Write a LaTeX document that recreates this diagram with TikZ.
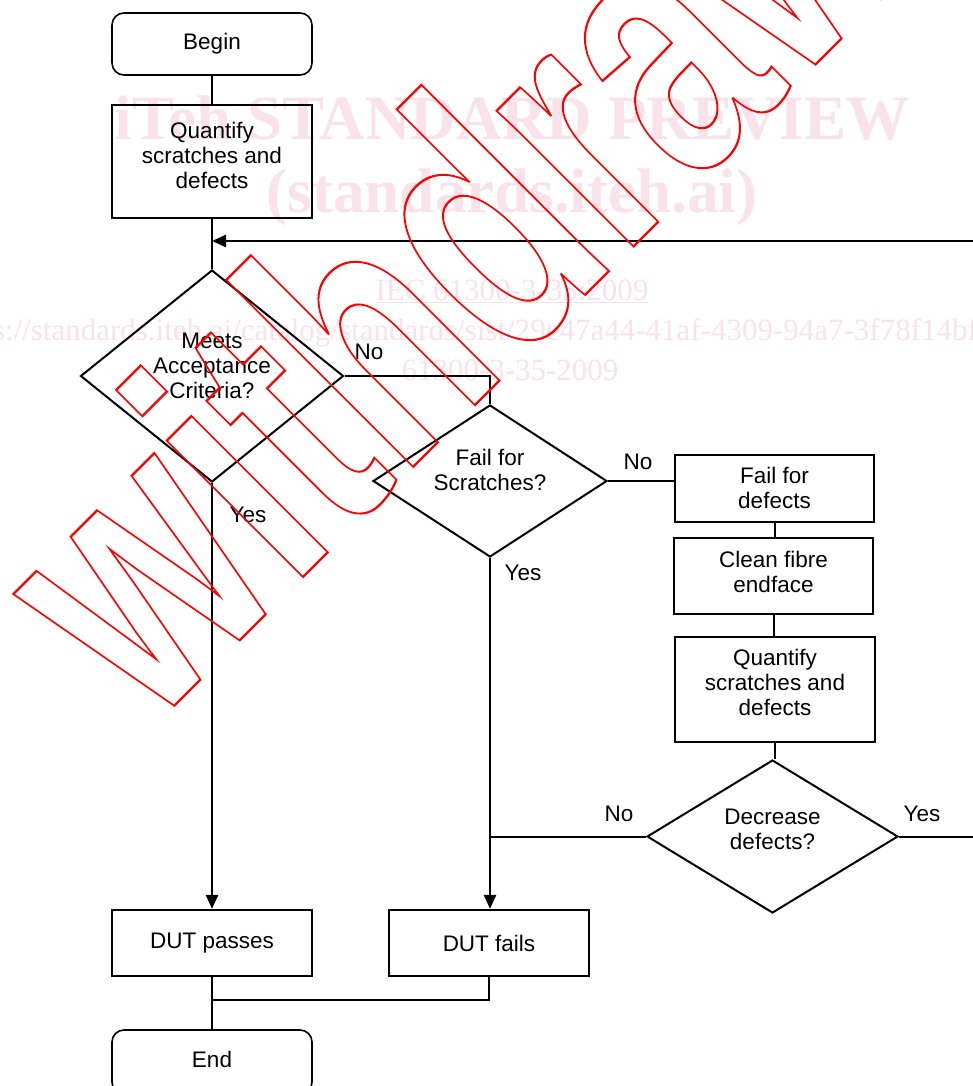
\documentclass[tikz,border=0pt]{standalone}
\usepackage{fontspec}
\setmainfont{Liberation Sans}
\newfontfamily\wmserif{Liberation Serif}
\newfontfamily\wdfont{Liberation Sans}
\usetikzlibrary{shapes.geometric,arrows.meta}
\definecolor{wmpink}{RGB}{250,226,234}
\definecolor{wmred}{RGB}{255,0,0}
\newcommand\ml[2]{\raisebox{#1}[\height][\depth]{\begin{tabular}{@{}c@{}}#2\end{tabular}}}
\begin{document}
\begin{tikzpicture}[x=1pt,y=-1pt,
  every node/.style={font=\fontsize{22.5}{25}\selectfont, inner sep=0pt},
  ln/.style={line width=2pt},
  box/.style={draw, line width=2.2pt, minimum width=200pt, minimum height=#1},
  term/.style={draw, line width=1.6pt, rounded corners=12pt, minimum width=200pt, minimum height=62pt},
  dec/.style={draw, diamond, line width=2pt, inner sep=0pt},
  arr/.style={line width=2.5pt, -{Triangle[length=14pt,width=12pt]}},
  lab/.style={anchor=center},
  wm/.style={text=wmpink, inner sep=0pt}
]
\useasboundingbox (0,0) rectangle (972,1086);

% watermark text (pink)
\node[wm, anchor=base, font=\wmserif\bfseries\fontsize{63}{63}\selectfont] (wm1) at (512,140) {iTeh STANDARD PREVIEW};
\node[wm, anchor=base, font=\wmserif\bfseries\fontsize{63}{63}\selectfont] (wm2) at (512,212) {(standards.iteh.ai)};
\node[wm, anchor=base, font=\wmserif\fontsize{31}{31}\selectfont] (wm3) at (512,300) {\underline{IEC 61300-3-35:2009}};
\node[wm, anchor=base east, font=\wmserif\fontsize{31}{31}\selectfont] (wm4) at (978,340) {https://standards.iteh.ai/catalog/standards/sist/29e47a44-41af-4309-94a7-3f78f14bf};
\node[wm, anchor=base, font=\wmserif\fontsize{31}{31}\selectfont] (wm5) at (510,380) {61300-3-35-2009};

% flowchart nodes
\node[term] (begin) at (212,44) {Begin};
\node[box=113pt] (q1) at (212,161.5) {\ml{3pt}{Quantify\\scratches and\\defects}};
\node[dec, minimum width=263pt, minimum height=212pt, aspect=1.24] (d1) at (212,376) {\ml{8pt}{Meets\\Acceptance\\Criteria?}};
\node[dec, minimum width=234pt, minimum height=152pt, aspect=1.54] (d2) at (490,481) {\ml{8.5pt}{Fail for\\Scratches?}};
\node[box=67pt, minimum width=199pt] (fd) at (774.5,488.5) {\ml{-2.5pt}{Fail for\\defects}};
\node[box=76pt, minimum width=199pt] (cf) at (773.5,576) {\ml{1.5pt}{Clean fibre\\endface}};
\node[box=105pt] (q2) at (775,689.5) {\ml{4pt}{Quantify\\scratches and\\defects}};
\node[dec, minimum width=251pt, minimum height=153pt, aspect=1.64] (d3) at (772.5,836.5) {\ml{5pt}{Decrease\\defects?}};
\node[box=66pt] (pass) at (212,943) {DUT passes};
\node[box=66pt] (fail) at (489,943) {DUT fails};
\node[term, minimum height=64pt] (end) at (212,1062) {\raisebox{3pt}[\height][\depth]{End}};

% junction coordinates
\coordinate (j1) at (212,241);
\coordinate (j2) at (490,836.5);
\coordinate (j3) at (212,1000);
\coordinate (loop) at (992,836.5);

% connectors
\draw[ln] (begin) -- (q1);
\draw[ln] (q1) -- (d1);
\draw[ln] (d3.east) -- (loop);
\draw[arr] (loop) |- (j1);
\draw[ln] (d1.east) -| (d2.north);
\draw[ln] (d2.east) -- (d2.east -| fd.west);
\draw[ln] (fd.south) -- (fd.south |- cf.north);
\draw[ln] (cf.south) -- (cf.south |- q2.north);
\draw[ln] (q2.south) -- (q2.south |- d3.north);
\draw[ln] (d3.west) -- (j2);
\draw[arr] (d1.south) -- (d1.south |- pass.north);
\draw[arr] (d2.south) -- (d2.south |- fail.north);
\draw[ln] (pass) -- (end);
\draw[ln] (fail.south) |- (j3);

% labels
\node[lab] (l1) at (369,352) {No};
\node[lab] (l2) at (638,462) {No};
\node[lab] (l3) at (248,515) {Yes};
\node[lab] (l4) at (523,573) {Yes};
\node[lab] (l5) at (619,814) {No};
\node[lab] (l6) at (922,814) {Yes};

% red outlined watermark
\node[text=wmred, rotate=45, yscale=1.43, anchor=base west, inner sep=0pt, font=\wdfont\bfseries\fontsize{255}{255}\selectfont] (wd) at (150,730) {\special{pdf:literal direct 1 Tr 1.6 w}withdrawn\special{pdf:literal direct 0 Tr}};
\end{tikzpicture}
\end{document}
